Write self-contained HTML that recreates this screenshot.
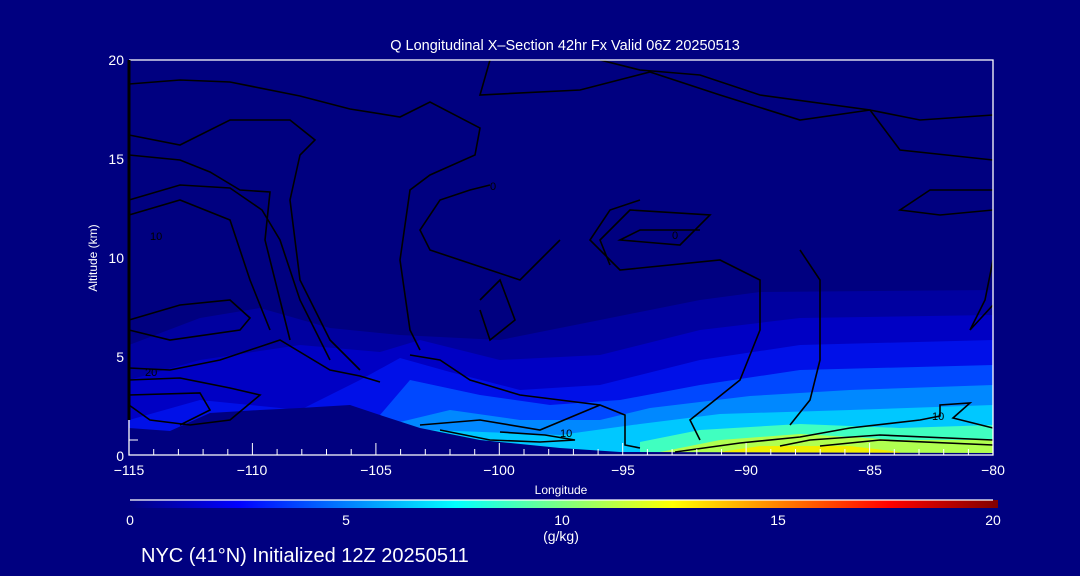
<!DOCTYPE html>
<html><head><meta charset="utf-8"><style>
body{margin:0;background:#000080;}
svg{display:block}
text{font-family:"Liberation Sans",sans-serif;fill:#fff}
</style></head><body>
<svg width="1080" height="576" viewBox="0 0 1080 576" xmlns="http://www.w3.org/2000/svg">
<defs>
<linearGradient id="jet" x1="0" x2="1" y1="0" y2="0">
<stop offset="0" stop-color="#000080"/>
<stop offset="0.125" stop-color="#0000ff"/>
<stop offset="0.375" stop-color="#00ffff"/>
<stop offset="0.625" stop-color="#ffff00"/>
<stop offset="0.875" stop-color="#ff0000"/>
<stop offset="1" stop-color="#800000"/>
</linearGradient>
</defs>
<rect width="1080" height="576" fill="#000080"/>
<g stroke="none">
<polygon fill="#0000a0" points="129,345 200,318 260,308 330,328 400,335 500,340 600,320 700,300 760,292 993,290 993,455 129,455"/>
<polygon fill="#0000c4" points="129,380 200,360 300,345 380,352 420,340 500,360 600,355 700,330 800,318 993,315 993,455 129,455"/>
<polygon fill="#0010e8" points="129,420 200,400 300,410 360,380 400,358 450,372 520,390 600,385 700,360 800,345 993,340 993,455 129,455"/>
<polygon fill="#0048ff" points="380,415 410,380 480,395 550,405 620,400 700,385 800,370 993,365 993,455 380,455"/>
<polygon fill="#0088ff" points="400,422 450,410 520,420 600,420 650,408 750,396 850,390 993,385 993,455 400,455"/>
<polygon fill="#00c8ff" points="430,430 560,435 640,424 720,414 850,410 993,405 993,455 430,455"/>
<polygon fill="#40ffc0" points="640,442 700,430 800,424 900,428 993,425 993,455 640,455"/>
<polygon fill="#b0ff50" points="660,452 720,440 800,434 900,440 993,440 993,455 660,455"/>
<polygon fill="#f0f000" points="700,455 760,446 850,446 900,452 900,455"/>
<polygon fill="#000080" points="129,428 170,431 210,413 260,410 300,408 350,405 380,415 420,428 480,440 560,448 620,452 993,453 993,456 129,456"/>
</g>
<g fill="none" stroke="#000" stroke-width="1.6">
<polyline points="129,84 180,80 230,82 300,96 350,109 400,117 430,102 480,128 475,155 430,175 410,190 400,260 410,330 420,350"/>
<polyline points="129,135 180,145 230,120 290,120 315,140 300,155 290,200 300,280 330,340 360,370"/>
<polyline points="129,155 180,160 210,172 240,190 270,192 265,240 280,300 290,340"/>
<polyline points="129,200 180,185 230,188 262,210 280,240 300,300 330,360"/>
<polyline points="129,215 180,200 230,220 250,280 270,330"/>
<polyline points="129,320 180,305 230,300 250,318 240,330 170,340 129,330"/>
<polyline points="129,368 170,370 220,360 280,340 330,370 360,376 380,382"/>
<polyline points="129,380 180,378 230,388 260,395 230,420 190,425 150,420 129,405"/>
<polyline points="129,395 200,393 210,410 180,425"/>
<polyline points="490,60 480,95 580,90 650,72 720,95 800,120 870,110 920,120 993,115"/>
<polyline points="993,190 930,190 900,210 940,215 993,210"/>
<polyline points="640,200 610,210 590,240 620,270 720,260 760,280 760,330 740,380 690,420 700,440"/>
<polyline points="700,230 640,230 620,240 680,245 710,215 630,210 600,240 610,265"/>
<polyline points="800,250 820,280 820,360 810,400 790,425"/>
<polyline points="600,60 640,70 700,75 760,95 870,110 900,150 993,160"/>
<polyline points="490,185 470,190 440,200 420,230 430,250 490,270 520,280 540,260 560,240"/>
<polyline points="993,260 985,300 970,330 993,305"/>
<polyline points="480,300 500,280 515,320 490,340 480,310"/>
<polyline points="410,355 440,360 470,380 520,395 600,405"/>
<polyline points="420,425 480,420 540,430 600,405 625,415 625,445 640,448"/>
<polyline points="440,430 490,440 540,442 575,440 545,435 500,432"/>
<polyline points="675,452 740,443 800,437 850,428 920,420 940,416 940,405 970,403 953,418 993,428"/>
<polyline points="780,446 810,440 880,435 993,440"/>
<polyline points="820,446 880,440 993,445"/>
</g>
<g font-size="11" fill="#000">
<text x="150" y="240" style="fill:#000">10</text>
<text x="145" y="376" style="fill:#000">20</text>
<text x="560" y="437" style="fill:#000">10</text>
<text x="932" y="420" style="fill:#000">10</text>
<text x="672" y="239" style="fill:#000">0</text>
<text x="490" y="190" style="fill:#000">0</text>
</g>
<g stroke="#fff" stroke-width="1.3" fill="none">
<polyline points="129,60 993,60 993,455 129,455 129,60"/>
</g>
<g stroke="#fff" stroke-width="1">
<line x1="129" y1="455" x2="129" y2="443"/><line x1="252.4" y1="455" x2="252.4" y2="443"/><line x1="375.9" y1="455" x2="375.9" y2="443"/><line x1="499.3" y1="455" x2="499.3" y2="443"/><line x1="622.7" y1="455" x2="622.7" y2="443"/><line x1="746.1" y1="455" x2="746.1" y2="443"/><line x1="869.6" y1="455" x2="869.6" y2="443"/>
<line x1="153.7" y1="455" x2="153.7" y2="449"/><line x1="178.4" y1="455" x2="178.4" y2="449"/><line x1="203.1" y1="455" x2="203.1" y2="449"/><line x1="227.8" y1="455" x2="227.8" y2="449"/>
<line x1="277.1" y1="455" x2="277.1" y2="449"/><line x1="301.8" y1="455" x2="301.8" y2="449"/><line x1="326.5" y1="455" x2="326.5" y2="449"/><line x1="351.2" y1="455" x2="351.2" y2="449"/>
<line x1="400.6" y1="455" x2="400.6" y2="449"/><line x1="425.3" y1="455" x2="425.3" y2="449"/><line x1="450" y1="455" x2="450" y2="449"/><line x1="474.7" y1="455" x2="474.7" y2="449"/>
<line x1="524" y1="455" x2="524" y2="449"/><line x1="548.7" y1="455" x2="548.7" y2="449"/><line x1="573.4" y1="455" x2="573.4" y2="449"/><line x1="598.1" y1="455" x2="598.1" y2="449"/>
<line x1="647.4" y1="455" x2="647.4" y2="449"/><line x1="672.1" y1="455" x2="672.1" y2="449"/><line x1="696.8" y1="455" x2="696.8" y2="449"/><line x1="721.5" y1="455" x2="721.5" y2="449"/>
<line x1="770.8" y1="455" x2="770.8" y2="449"/><line x1="795.5" y1="455" x2="795.5" y2="449"/><line x1="820.2" y1="455" x2="820.2" y2="449"/><line x1="844.9" y1="455" x2="844.9" y2="449"/>
<line x1="894.3" y1="455" x2="894.3" y2="449"/><line x1="919" y1="455" x2="919" y2="449"/><line x1="943.7" y1="455" x2="943.7" y2="449"/><line x1="968.4" y1="455" x2="968.4" y2="449"/>
<line x1="129" y1="440" x2="138" y2="440"/>
</g>
<line x1="129" y1="60" x2="129" y2="420" stroke="#000" stroke-width="3"/>
<text x="565" y="50" font-size="14.5" text-anchor="middle">Q Longitudinal X–Section 42hr  Fx Valid 06Z 20250513</text>
<g font-size="14" text-anchor="end">
<text x="124" y="65">20</text><text x="124" y="164">15</text><text x="124" y="263">10</text><text x="124" y="362">5</text><text x="124" y="461">0</text>
</g>
<text transform="translate(97,258) rotate(-90)" font-size="12" text-anchor="middle">Altitude (km)</text>
<g font-size="14" text-anchor="middle">
<text x="129" y="475">−115</text><text x="252" y="475">−110</text><text x="376" y="475">−105</text><text x="499" y="475">−100</text><text x="623" y="475">−95</text><text x="746" y="475">−90</text><text x="870" y="475">−85</text><text x="993" y="475">−80</text>
</g>
<text x="561" y="494" font-size="12" text-anchor="middle">Longitude</text>
<rect x="130" y="500" width="868" height="8" fill="url(#jet)"/>
<line x1="130" y1="500" x2="993" y2="500" stroke="#fff" stroke-width="1.2"/>
<g font-size="14" text-anchor="middle">
<text x="130" y="525">0</text><text x="346" y="525">5</text><text x="562" y="525">10</text><text x="778" y="525">15</text><text x="993" y="525">20</text>
</g>
<text x="561" y="541" font-size="14" text-anchor="middle">(g/kg)</text>
<text x="141" y="562" font-size="20">NYC (41°N) Initialized 12Z 20250511</text>
</svg>
</body></html>
